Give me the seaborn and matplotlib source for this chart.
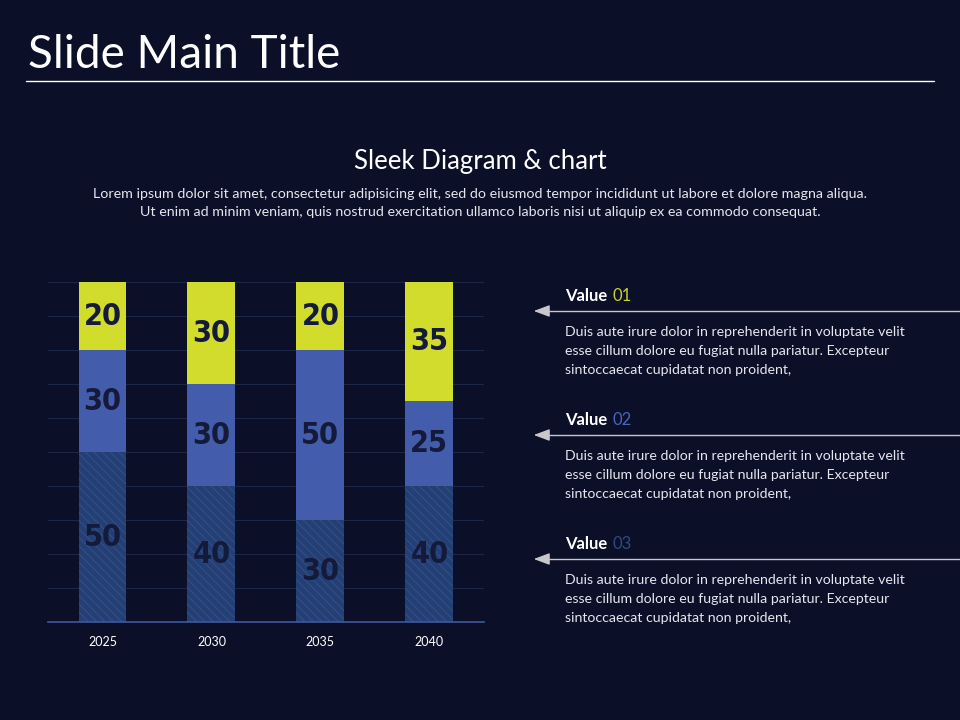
import numpy as np
import pandas as pd
import seaborn as sns
import matplotlib.pyplot as plt

years = ['2025', '2030', '2035', '2040']
bottom_vals = [50, 40, 30, 40]
middle_vals = [30, 30, 50, 25]
top_vals = [20, 30, 20, 35]

value_titles = ['01', '02', '03']
body_text = ("Duis aute irure dolor in reprehenderit in voluptate velit\n"
             "esse cillum dolore eu fugiat nulla pariatur. Excepteur\n"
             "sintoccaecat cupidatat non proident,")

bg = '#0b0f27'
c_top = '#d2dc2c'
c_mid = '#435cab'
c_bot = '#243f74'
label_col = '#141a3a'

sns.set_theme(style='white')
plt.rcParams['font.family'] = ['Lato', 'DejaVu Sans']
plt.rcParams['hatch.linewidth'] = 0.7

df = pd.DataFrame({'year': years, 'bot': bottom_vals, 'mid': middle_vals, 'top': top_vals})
df['s2'] = df['bot'] + df['mid']
df['s3'] = df['s2'] + df['top']

fig = plt.figure(figsize=(9.6, 7.2), dpi=100, facecolor=bg)
ax = fig.add_axes([0.05, 0.1361, 0.454, 0.4722], facecolor=bg)

# stacked by overlaying cumulative totals
sns.barplot(data=df, x='year', y='s3', color=c_top, width=0.44, saturation=1, ax=ax,
            linewidth=0, zorder=2)
sns.barplot(data=df, x='year', y='s2', color=c_mid, width=0.44, saturation=1, ax=ax,
            linewidth=0, zorder=2)
sns.barplot(data=df, x='year', y='bot', color=c_bot, width=0.44, saturation=1, ax=ax, zorder=2,
            hatch='\\\\\\\\', edgecolor='#35508a', linewidth=0)

ax.set_ylim(0, 100)
ax.set_xlim(-0.5, 3.5)
ax.set_yticks(np.arange(0, 101, 10))
ax.set_yticklabels([])
ax.grid(axis='y', color='#1c2748', linewidth=0.8, zorder=0)
ax.set_axisbelow(True)
for s in ['top', 'right', 'left']:
    ax.spines[s].set_visible(False)
ax.spines['bottom'].set_color('#3d5a9e')
ax.spines['bottom'].set_linewidth(1.2)
ax.tick_params(axis='x', colors='white', labelsize=9, length=0, pad=10)
ax.tick_params(axis='y', length=0)
ax.set_xlabel('')
ax.set_ylabel('')

num_font = dict(family=['Liberation Sans Narrow', 'DejaVu Sans'], weight='heavy',
                stretch='condensed', size=22, color=label_col, ha='center', va='center',
                zorder=5)
for i, r in df.iterrows():
    ax.text(i, r['bot'] / 2, str(r['bot']), **num_font)
    ax.text(i, r['bot'] + r['mid'] / 2, str(r['mid']), **num_font)
    ax.text(i, r['s2'] + r['top'] / 2, str(r['top']), **num_font)

# slide title and header texts
fig.text(28 / 960, 1 - 55 / 720, 'Slide Main Title', color='white', fontsize=33,
         ha='left', va='center')
fig.add_artist(plt.Line2D([26 / 960, 934 / 960], [1 - 81 / 720] * 2, color='white', linewidth=1))
fig.text(0.5, 1 - 161 / 720, 'Sleek Diagram & chart', color='white', fontsize=18.5,
         ha='center', va='center')
fig.text(0.5, 1 - 203 / 720,
         'Lorem ipsum dolor sit amet, consectetur adipisicing elit, sed do eiusmod tempor incididunt ut labore et dolore magna aliqua.\n'
         'Ut enim ad minim veniam, quis nostrud exercitation ullamco laboris nisi ut aliquip ex ea commodo consequat.',
         color='#e6e6ee', fontsize=10.3, ha='center', va='center', linespacing=1.5)

# right side value blocks
num_colors = ['#c6d42e', '#4a66b8', '#2e4a80']
title_y = [296, 420, 544]
for k, (ttl, col, ty) in enumerate(zip(value_titles, num_colors, title_y)):
    t = fig.text(565 / 960, 1 - ty / 720, 'Value', color='white', fontsize=12,
                 fontweight='bold', ha='left', va='center')
    ax.annotate(ttl, xy=(1, 0.5), xycoords=t, xytext=(4, 0), textcoords='offset points',
                color=col, fontsize=12, ha='left', va='center', annotation_clip=False)
    ly = 720 - (ty + 15)
    fig.add_artist(plt.Line2D([538 / 960, 1.0], [ly / 720] * 2, color='#c8c8cc', linewidth=1))
    ax.annotate('', xy=(531, ly), xycoords='figure pixels', xytext=(545, ly),
                textcoords='figure pixels', annotation_clip=False,
                arrowprops=dict(arrowstyle='-|>,head_length=0.8,head_width=0.3',
                                color='#c8c8cc', lw=1))
    fig.text(565 / 960, 1 - (ty + 55) / 720, body_text, color='#e6e6ee', fontsize=10.2,
             ha='left', va='center', linespacing=1.72)

fig.savefig('out.png', dpi=100, facecolor=bg)
